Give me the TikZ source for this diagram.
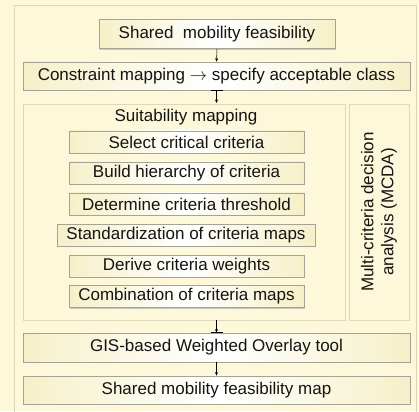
\documentclass[tikz,border=0pt]{standalone}
\usepackage{fontspec}
\setmainfont{Liberation Sans}
\usetikzlibrary{arrows.meta,shadows}
\definecolor{bgyellow}{HTML}{FCF8D9}
\definecolor{framecol}{HTML}{DCD8B8}
\definecolor{boxedge}{HTML}{A5A396}
\definecolor{boxcream}{HTML}{F6F0C8}
\definecolor{txtcol}{HTML}{141414}
\tikzset{
  stepbox/.style={draw=boxedge, line width=0.8pt, left color=boxcream, right color=boxcream, middle color=white,
    drop shadow={shadow xshift=1pt, shadow yshift=-1.2pt, fill=black!35, opacity=0.6},
    inner sep=0pt, text=txtcol, font=\fontsize{17}{20}\selectfont},
  panel/.style={draw=framecol, line width=0.7pt, fill=bgyellow, inner sep=0pt},
  flow/.style={-{Stealth[length=3.5pt,width=3pt]}, line width=0.5pt, black},
}
\begin{document}
\begin{tikzpicture}[x=1pt,y=-1pt]
\useasboundingbox (0,0) rectangle (419,411);
\fill[bgyellow] (0,0) rectangle (419,411);
\draw[framecol, line width=0.8pt] (14,5) rectangle (416,416);

\node[stepbox, minimum width=236pt, minimum height=29pt] (b1) at (217,34) {Shared\ \ mobility feasibility};
\node[stepbox, minimum width=387pt, minimum height=28pt] (b2) at (216.5,76) {Constraint mapping $\rightarrow$ specify acceptable class};

\node[panel, minimum width=322pt, minimum height=216pt] (suit) at (184,212) {};
\node[panel, minimum width=60pt, minimum height=216pt] (mcda) at (379,212) {};
\node[text=txtcol, font=\fontsize{17}{20}\selectfont] (suittitle) at (186,117) {Suitability mapping};
\node[text=txtcol, font=\fontsize{17}{20}\selectfont, rotate=90, align=center] (mcdatext) at (379,212) {Multi-criteria decision\\analysis (MCDA)};

\node[stepbox, minimum width=235pt, minimum height=22pt] (s1) at (186.5,142) {Select critical criteria};
\node[stepbox, minimum width=235pt, minimum height=22pt] (s2) at (186.5,173) {Build hierarchy of criteria};
\node[stepbox, minimum width=235pt, minimum height=22pt] (s3) at (186.5,204) {Determine criteria threshold};
\node[stepbox, minimum width=258pt, minimum height=22pt] (s4) at (186,235) {Standardization of criteria maps};
\node[stepbox, minimum width=235pt, minimum height=22pt] (s5) at (186.5,266) {Derive criteria weights};
\node[stepbox, minimum width=235pt, minimum height=22pt] (s6) at (186.5,296.5) {Combination of criteria maps};

\node[stepbox, minimum width=387pt, minimum height=29pt] (gis) at (216.5,347.5) {GIS-based Weighted Overlay tool};
\node[stepbox, minimum width=387pt, minimum height=28pt] (final) at (216.5,390) {Shared mobility feasibility map};

\coordinate (a2) at (216.5,90);
\coordinate (a2e) at (216.5,103);
\coordinate (a3) at (216.5,320);

\draw[flow] (b1.south) -- (b2.north);
\draw[flow] (a2) -- (a2e);
\draw[flow] (a3) -- (gis.north);
\draw[flow] (gis.south) -- (final.north);
\draw[black, line width=0.8pt] ([xshift=-6pt]a2) -- ([xshift=6pt]a2);
\draw[black, line width=0.8pt] ([xshift=-6pt]gis.north) -- ([xshift=6pt]gis.north);
\end{tikzpicture}
\end{document}
